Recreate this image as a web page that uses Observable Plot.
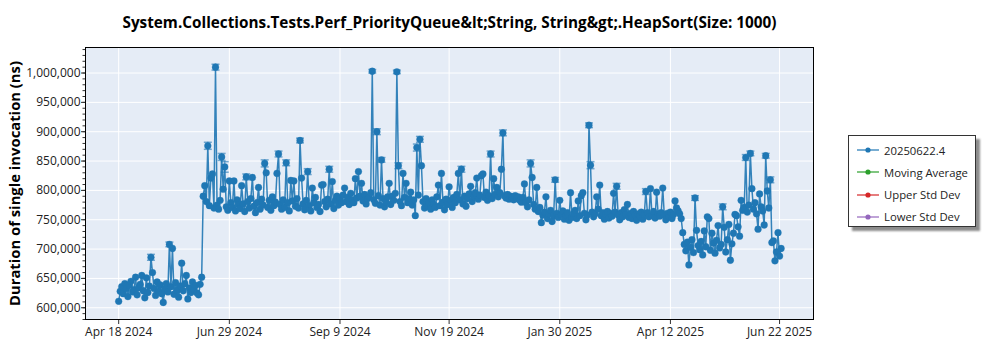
<!DOCTYPE html>
<html><head><meta charset="utf-8">
<script src="https://cdn.jsdelivr.net/npm/d3@7"></script>
<script src="https://cdn.jsdelivr.net/npm/@observablehq/plot@0.6"></script>
<style>
body{margin:0;background:#fff;font-family:"Open Sans",sans-serif;}
#wrap{position:relative;width:1000px;height:350px;overflow:hidden;}
#legend{position:absolute;left:848px;top:135px;width:128px;height:92px;box-sizing:border-box;background:#fff;border:1px solid #333;box-shadow:4px 4px 2px rgba(0,0,0,0.45);}
.item{position:absolute;left:8px;height:16px;display:flex;align-items:center;font-size:11.3px;color:#222;white-space:nowrap;}
.item svg{margin-right:5px;}
</style></head><body><div id="wrap"><div id="chart"></div><div id="legend"></div></div>
<script>
const title = "System.Collections.Tests.Perf_PriorityQueue&lt;String, String&gt;.HeapSort(Size: 1000)";
const yLabel = "Duration of single invocation (ns)";
const xTickDates = ["2024-04-18","2024-06-29","2024-09-09","2024-11-19","2025-01-30","2025-04-12","2025-06-22"];
const yTicks = [600000,650000,700000,750000,800000,850000,900000,950000,1000000];
const seriesNames = ["20250622.4","Moving Average","Upper Std Dev","Lower Std Dev"];
const seriesColors = ["#1f77b4","#2ca02c","#d62728","#9467bd"];

const dates = [
"2024-04-18","2024-04-19","2024-04-20","2024-04-21","2024-04-22","2024-04-23","2024-04-24","2024-04-25","2024-04-26","2024-04-27","2024-04-28","2024-04-29","2024-04-30",
"2024-05-01","2024-05-02","2024-05-03","2024-05-04","2024-05-05","2024-05-06","2024-05-07","2024-05-08","2024-05-09","2024-05-10","2024-05-11","2024-05-12","2024-05-13","2024-05-14","2024-05-15","2024-05-16","2024-05-17","2024-05-18","2024-05-19","2024-05-20","2024-05-21","2024-05-22","2024-05-23","2024-05-24","2024-05-25","2024-05-26","2024-05-27","2024-05-28","2024-05-29","2024-05-30","2024-05-31",
"2024-06-01","2024-06-02","2024-06-03","2024-06-04","2024-06-05","2024-06-06","2024-06-07","2024-06-08","2024-06-09","2024-06-10","2024-06-11","2024-06-12","2024-06-13","2024-06-14","2024-06-15","2024-06-16","2024-06-17","2024-06-18","2024-06-19","2024-06-20","2024-06-21","2024-06-22","2024-06-23","2024-06-24","2024-06-25","2024-06-26","2024-06-27","2024-06-28","2024-06-29","2024-06-30",
"2024-07-01","2024-07-02","2024-07-03","2024-07-04","2024-07-05","2024-07-06","2024-07-07","2024-07-08","2024-07-09","2024-07-10","2024-07-11","2024-07-12","2024-07-13","2024-07-14","2024-07-15","2024-07-16","2024-07-17","2024-07-18","2024-07-19","2024-07-20","2024-07-21","2024-07-22","2024-07-23","2024-07-24","2024-07-25","2024-07-26","2024-07-27","2024-07-28","2024-07-29","2024-07-30","2024-07-31",
"2024-08-01","2024-08-02","2024-08-03","2024-08-04","2024-08-05","2024-08-06","2024-08-07","2024-08-08","2024-08-09","2024-08-10","2024-08-11","2024-08-12","2024-08-13","2024-08-14","2024-08-15","2024-08-16","2024-08-17","2024-08-18","2024-08-19","2024-08-20","2024-08-21","2024-08-22","2024-08-23","2024-08-24","2024-08-25","2024-08-26","2024-08-27","2024-08-28","2024-08-29","2024-08-30","2024-08-31",
"2024-09-01","2024-09-02","2024-09-03","2024-09-04","2024-09-05","2024-09-06","2024-09-07","2024-09-08","2024-09-09","2024-09-10","2024-09-11","2024-09-12","2024-09-13","2024-09-14","2024-09-15","2024-09-16","2024-09-17","2024-09-18","2024-09-19","2024-09-20","2024-09-21","2024-09-22","2024-09-23","2024-09-24","2024-09-25","2024-09-26","2024-09-27","2024-09-28","2024-09-29","2024-09-30",
"2024-10-01","2024-10-02","2024-10-03","2024-10-04","2024-10-05","2024-10-06","2024-10-07","2024-10-08","2024-10-09","2024-10-10","2024-10-11","2024-10-12","2024-10-13","2024-10-14","2024-10-15","2024-10-16","2024-10-17","2024-10-18","2024-10-19","2024-10-20","2024-10-21","2024-10-22","2024-10-23","2024-10-24","2024-10-25","2024-10-26","2024-10-27","2024-10-28","2024-10-29","2024-10-30","2024-10-31",
"2024-11-01","2024-11-02","2024-11-03","2024-11-04","2024-11-05","2024-11-06","2024-11-07","2024-11-08","2024-11-09","2024-11-10","2024-11-11","2024-11-12","2024-11-13","2024-11-14","2024-11-15","2024-11-16","2024-11-17","2024-11-18","2024-11-19","2024-11-20","2024-11-21","2024-11-22","2024-11-23","2024-11-24","2024-11-25","2024-11-26","2024-11-27","2024-11-28","2024-11-29","2024-11-30",
"2024-12-01","2024-12-02","2024-12-03","2024-12-04","2024-12-05","2024-12-06","2024-12-07","2024-12-08","2024-12-09","2024-12-10","2024-12-11","2024-12-12","2024-12-13","2024-12-14","2024-12-15","2024-12-16","2024-12-17","2024-12-18","2024-12-19","2024-12-20","2024-12-21","2024-12-22","2024-12-23","2024-12-24","2024-12-25","2024-12-26","2024-12-27","2024-12-28","2024-12-29","2024-12-30","2024-12-31",
"2025-01-01","2025-01-02","2025-01-03","2025-01-04","2025-01-05","2025-01-06","2025-01-07","2025-01-08","2025-01-09","2025-01-10","2025-01-11","2025-01-12","2025-01-13","2025-01-14","2025-01-15","2025-01-16","2025-01-17","2025-01-18","2025-01-19","2025-01-20","2025-01-21","2025-01-22","2025-01-23","2025-01-24","2025-01-25","2025-01-26","2025-01-27","2025-01-28","2025-01-29","2025-01-30","2025-01-31",
"2025-02-01","2025-02-02","2025-02-03","2025-02-04","2025-02-05","2025-02-06","2025-02-07","2025-02-08","2025-02-09","2025-02-10","2025-02-11","2025-02-12","2025-02-13","2025-02-14","2025-02-15","2025-02-16","2025-02-17","2025-02-18","2025-02-19","2025-02-20","2025-02-21","2025-02-22","2025-02-23","2025-02-24","2025-02-25","2025-02-26","2025-02-27","2025-02-28",
"2025-03-01","2025-03-02","2025-03-03","2025-03-04","2025-03-05","2025-03-06","2025-03-07","2025-03-08","2025-03-09","2025-03-10","2025-03-11","2025-03-12","2025-03-13","2025-03-14","2025-03-15","2025-03-16","2025-03-17","2025-03-18","2025-03-19","2025-03-20","2025-03-21","2025-03-22","2025-03-23","2025-03-24","2025-03-25","2025-03-26","2025-03-27","2025-03-28","2025-03-29","2025-03-30","2025-03-31",
"2025-04-01","2025-04-02","2025-04-03","2025-04-04","2025-04-05","2025-04-06","2025-04-07","2025-04-08","2025-04-09","2025-04-10","2025-04-11","2025-04-12","2025-04-13","2025-04-14","2025-04-15","2025-04-16","2025-04-17","2025-04-18","2025-04-19","2025-04-20","2025-04-21","2025-04-22","2025-04-23","2025-04-24","2025-04-25","2025-04-26","2025-04-27","2025-04-28","2025-04-29","2025-04-30",
"2025-05-01","2025-05-02","2025-05-03","2025-05-04","2025-05-05","2025-05-06","2025-05-07","2025-05-08","2025-05-09","2025-05-10","2025-05-11","2025-05-12","2025-05-13","2025-05-14","2025-05-15","2025-05-16","2025-05-17","2025-05-18","2025-05-19","2025-05-20","2025-05-21","2025-05-22","2025-05-23","2025-05-24","2025-05-25","2025-05-26","2025-05-27","2025-05-28","2025-05-29","2025-05-30","2025-05-31",
"2025-06-01","2025-06-02","2025-06-03","2025-06-04","2025-06-05","2025-06-06","2025-06-07","2025-06-08","2025-06-09","2025-06-10","2025-06-11","2025-06-12","2025-06-13","2025-06-14","2025-06-15","2025-06-16","2025-06-17","2025-06-18","2025-06-19","2025-06-20","2025-06-21","2025-06-22","2025-06-23"
];

const values = [
611000,628000,636000,624000,641000,633000,619000,638000,645000,627000,631000,652000,622000,
634000,640000,655000,629000,617000,651000,626000,637000,686000,660000,633000,621000,644000,628000,639000,624000,609000,632000,641000,627000,708000,636000,701000,623000,643000,630000,618000,637000,676000,629000,641000,
655000,615000,634000,626000,644000,631000,638000,625000,622000,640000,652000,790000,808000,781000,876000,774000,821000,828000,770000,1010000,775000,768000,783000,857000,802000,840000,772000,766000,816000,779000,
771000,816000,765000,784000,776000,769000,808000,777000,764000,823000,781000,770000,786000,822000,773000,762000,779000,805000,768000,785000,775000,846000,830000,771000,783000,766000,789000,774000,780000,829000,862000,
776000,768000,784000,771000,847000,779000,765000,817000,782000,816000,773000,786000,770000,885000,821000,777000,767000,783000,832000,774000,765000,804000,779000,788000,771000,776000,764000,809000,810000,781000,772000,
785000,836000,777000,815000,769000,783000,790000,775000,786000,779000,792000,804000,781000,788000,776000,795000,784000,779000,820000,787000,832000,790000,812000,782000,793000,777000,786000,789000,796000,1003000,
784000,778000,900000,791000,775000,852000,786000,772000,780000,789000,812000,776000,790000,783000,795000,1002000,842000,781000,774000,829000,788000,812000,779000,786000,797000,775000,784000,757000,873000,792000,887000,
842000,781000,770000,786000,773000,779000,768000,784000,776000,771000,789000,809000,774000,829000,780000,767000,785000,776000,806000,783000,771000,788000,779000,793000,829000,784000,836000,777000,790000,773000,
786000,794000,807000,781000,789000,796000,821000,785000,792000,825000,828000,788000,797000,783000,791000,862000,786000,820000,793000,805000,789000,796000,836000,898000,791000,787000,793000,785000,790000,788000,784000,
791000,786000,789000,783000,780000,788000,811000,779000,772000,784000,846000,822000,776000,768000,805000,764000,771000,745000,758000,763000,789000,752000,760000,766000,747000,757000,818000,761000,754000,783000,759000,
765000,751000,758000,762000,749000,796000,754000,760000,766000,752000,782000,757000,791000,796000,761000,750000,758000,911000,843000,763000,755000,760000,789000,768000,809000,757000,762000,751000,
759000,764000,753000,761000,756000,795000,763000,807000,758000,750000,762000,755000,767000,759000,776000,754000,761000,752000,764000,758000,749000,760000,756000,763000,751000,759000,798000,762000,755000,803000,757000,
764000,753000,797000,760000,756000,762000,804000,758000,750000,761000,755000,763000,752000,759000,782000,770000,765000,760000,752000,728000,708000,697000,712000,673000,703000,716000,694000,787000,732000,706000,
699000,713000,690000,731000,704000,755000,752000,698000,727000,710000,693000,715000,740000,702000,708000,772000,737000,695000,716000,742000,681000,709000,727000,759000,757000,738000,722000,783000,766000,771000,856000,
763000,775000,863000,803000,768000,779000,760000,734000,794000,772000,765000,741000,859000,799000,770000,818000,711000,714000,680000,695000,728000,688000,701000
];

// [date, half-width of the error bar in ns]
const errorBars = [
["2024-05-09",5000],["2024-05-21",4000],["2024-06-15",6000],["2024-06-20",5000],["2024-06-24",6000],["2024-06-26",9000],
["2024-07-10",5000],["2024-07-22",6000],["2024-07-31",5000],["2024-08-05",5000],["2024-08-14",4000],["2024-08-19",5000],
["2024-09-02",5000],["2024-09-30",3000],["2024-10-03",5000],["2024-10-06",4000],["2024-10-16",3000],["2024-10-17",5000],
["2024-10-29",6000],["2024-10-31",5000],["2024-11-27",5000],["2024-12-16",5000],["2024-12-24",5000],["2025-01-11",6000],
["2025-01-27",4000],["2025-02-18",4000],["2025-02-19",6000],["2025-03-08",5000],["2025-03-27",5000],["2025-04-28",4000],
["2025-05-16",5000],["2025-05-31",5000],["2025-06-03",4000],["2025-06-13",4000],["2025-06-16",5000]
];

const parse = s => new Date(s + "T00:00:00Z");
const data = dates.map((d, i) => ({date: parse(d), value: values[i]}));
const errs = errorBars.map(([d, e]) => {
  const v = values[dates.indexOf(d)];
  return {date: parse(d), lo: v - e, hi: v + e};
});
const xTicks = xTickDates.map(parse);
const minorTicks = d3.range(580000, 1040001, 10000);
const hbar = {draw(ctx, size) { const w = Math.sqrt(size / Math.PI); ctx.moveTo(-w, 0); ctx.lineTo(w, 0); }};
const font = "'Open Sans', sans-serif";

const chart = Plot.plot({
  width: 1000, height: 350,
  marginLeft: 85, marginRight: 187, marginTop: 47, marginBottom: 31,
  style: {fontFamily: font, fontSize: "12px", color: "#222", background: "white", overflow: "visible"},
  x: {type: "utc", domain: [new Date("2024-03-27T10:00:00Z"), new Date("2025-07-14T02:00:00Z")], label: null},
  y: {domain: [580000, 1043500], label: null},
  marks: [
    Plot.frame({fill: "#e5ecf6"}),
    Plot.gridY({ticks: yTicks, stroke: "white", strokeOpacity: 1, strokeWidth: 1}),
    Plot.gridX({ticks: xTicks, stroke: "white", strokeOpacity: 1, strokeWidth: 1}),
    Plot.axisY({ticks: minorTicks, tickSize: 2.5, tickFormat: () => "", label: null, stroke: "#333"}),
    Plot.axisY({ticks: yTicks, tickSize: 4, tickPadding: 1, tickFormat: d3.format(","), label: null, fontSize: 12, stroke: "#333"}),
    Plot.axisX({ticks: xTicks, tickSize: 5, tickPadding: 3, tickFormat: d3.utcFormat("%b %-d %Y"), label: null, fontSize: 12, stroke: "#333"}),
    Plot.ruleX(errs, {x: "date", y1: "lo", y2: "hi", stroke: "#1f77b4", strokeOpacity: 0.55, strokeWidth: 1.5}),
    Plot.dot(errs, {x: "date", y: "lo", symbol: hbar, r: 4, stroke: "#1f77b4", strokeOpacity: 0.6, strokeWidth: 1.5}),
    Plot.dot(errs, {x: "date", y: "hi", symbol: hbar, r: 4, stroke: "#1f77b4", strokeOpacity: 0.6, strokeWidth: 1.5}),
    Plot.line(data, {x: "date", y: "value", stroke: "#1f77b4", strokeWidth: 1.5, strokeOpacity: 0.9}),
    Plot.dot(data, {x: "date", y: "value", r: 3.4, fill: "#1f77b4", stroke: "#1f77b4", strokeOpacity: 0.35, strokeWidth: 1}),
    Plot.frame({stroke: "black", strokeWidth: 1}),
    Plot.text([title], {frameAnchor: "top", dy: -30, fontWeight: "bold", fontSize: 15.3, fill: "black", fontFamily: font}),
    Plot.text([yLabel], {frameAnchor: "left", dx: -70, rotate: -90, textAnchor: "middle", fontWeight: "bold", fontSize: 14.8, fill: "black", fontFamily: font})
  ]
});
document.getElementById("chart").appendChild(chart);

const legend = document.getElementById("legend");
seriesNames.forEach((name, i) => {
  const div = document.createElement("div");
  div.className = "item";
  div.style.top = (6 + i * 22.3) + "px";
  div.innerHTML = `<svg width="22" height="8"><line x1="0" y1="4" x2="22" y2="4" stroke="${seriesColors[i]}" stroke-width="1.2"/><circle cx="11" cy="4" r="2.6" fill="${seriesColors[i]}"/></svg>`;
  const span = document.createElement("span");
  span.textContent = name;
  div.appendChild(span);
  legend.appendChild(div);
});
</script>
</body></html>
